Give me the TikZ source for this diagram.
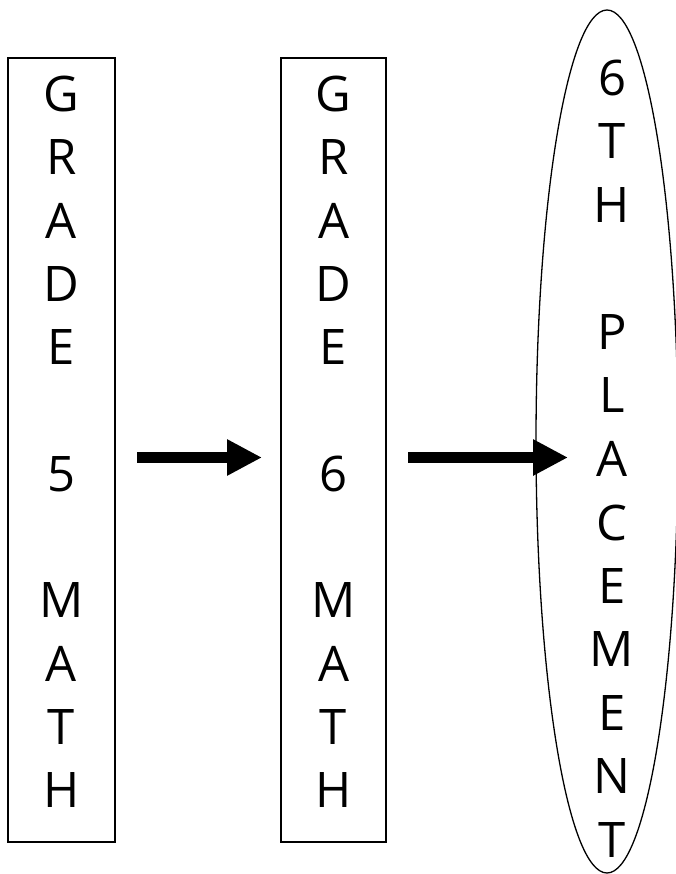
\documentclass[tikz,border=0pt]{standalone}
\usepackage{fontspec}
\setmainfont{Open Sans}
\usetikzlibrary{arrows.meta,shapes.geometric}
\tikzset{
    gradebox/.style={draw, line width=1.3pt, outer sep=0pt, inner sep=0pt, minimum width=107pt, minimum height=784pt},
    placeoval/.style={draw, ellipse, line width=1.3pt, outer sep=0pt, inner sep=0pt, minimum width=142pt, minimum height=863pt},
    letter/.style={inner sep=0pt, font=\fontsize{49}{49}\selectfont},
    fatarrow/.style={line width=11pt, -{Triangle[length=35pt, width=34pt]}}
}
\begin{document}
\begin{tikzpicture}[x=1pt, y=-1pt]
        \useasboundingbox (0,0) rectangle (676,874);
        \node[gradebox] (five) at (61.5,450) {};
        \node[gradebox, minimum width=105pt] (six) at (333.5,450) {};
        \node[placeoval] (place) at (607,441.5) {};
        \foreach \k/\c in {0/G,1/R,2/A,3/D,4/E,6/5,8/M,9/A,10/T,11/H}
            \node[letter] (five-\k) at (61.5,94+63.3*\k) {\c};
        \foreach \k/\c in {0/G,1/R,2/A,3/D,4/E,6/6,8/M,9/A,10/T,11/H}
            \node[letter] (six-\k) at (333.5,94+63.3*\k) {\c};
        \foreach \k/\c in {0/6,1/T,2/H,4/P,5/L,6/A,7/C,8/E,9/M,10/E,11/N,12/T}
            \node[letter] (place-\k) at (612,78+63.5*\k) {\c};
        \draw[fatarrow, shorten <=22pt, shorten >=19pt] (five.east |- 0,457.5) -- (six.west |- 0,457.5);
        \draw[fatarrow, shorten <=22pt, shorten >=-32pt] (six.east |- 0,457.5) -- (place.west |- 0,457.5);
    \end{tikzpicture}
\end{document}
